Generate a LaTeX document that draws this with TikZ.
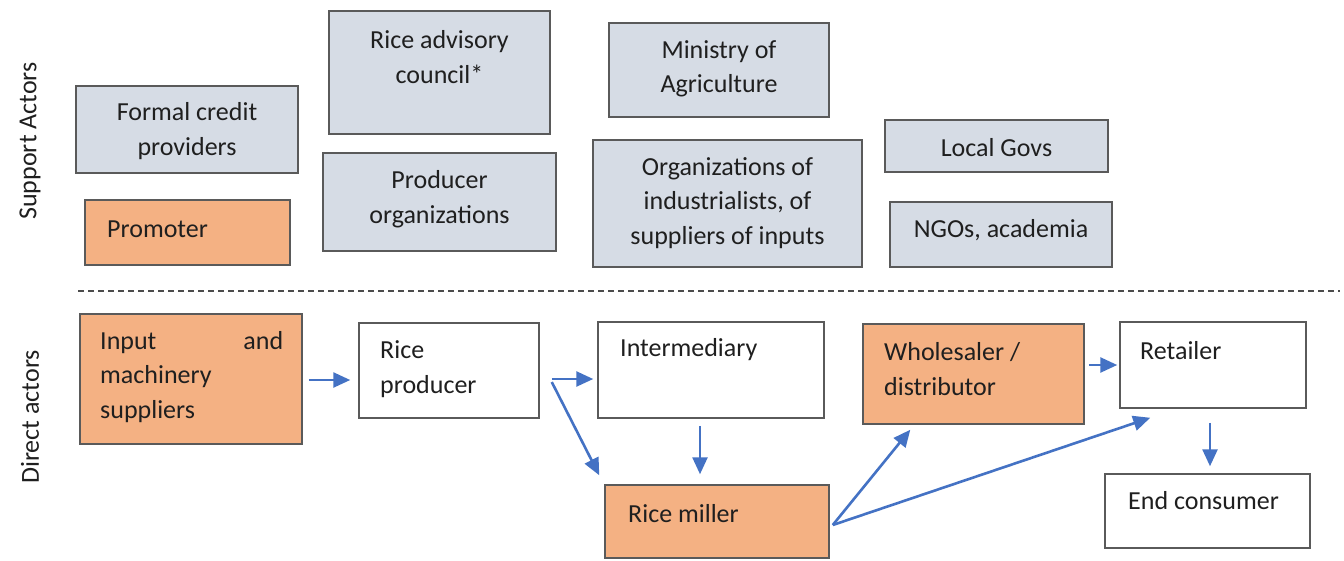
\documentclass[tikz,border=0pt]{standalone}
\usepackage{fontspec}
\setmainfont{Carlito}
\usetikzlibrary{arrows.meta,calc}
\definecolor{boxgrey}{HTML}{D6DCE5}
\definecolor{boxorange}{HTML}{F4B183}
\definecolor{edgegrey}{HTML}{5A5A5A}
\definecolor{arrblue}{HTML}{4472C4}
\definecolor{txtcol}{HTML}{1F1F1F}
\begin{document}
\begin{tikzpicture}[x=1pt,y=-1pt,
  box/.style={draw=edgegrey, line width=1.5pt, rectangle, inner sep=0pt},
  supbox/.style={box, fill=boxgrey},
  orgbox/.style={box, fill=boxorange},
  dirbox/.style={box, fill=white},
  txt/.style={font=\fontsize{26}{34.5}\selectfont, align=center, inner sep=0pt, text=txtcol},
  ltxt/.style={txt, align=left, anchor=west},
  arr/.style={draw=arrblue, line width=2.6pt, -{Triangle[length=17pt,width=15pt]}},
  sepline/.style={draw=black!70, line width=1.1pt, dash pattern=on 6pt off 4pt}
]
\path[use as bounding box, fill=white] (0,0) rectangle (1344,560);

% side labels
\node[txt, rotate=90] (lsupport) at (30,141) {Support Actors};
\node[txt, rotate=90] (ldirect) at (30,417) {Direct actors};

% separator
\coordinate (sepL) at (78,291);
\coordinate (sepR) at (1340,291);
\draw[sepline] (sepL) -- (sepR);

% support actors
\node[supbox, minimum width=222pt, minimum height=87pt] (credit) at (187,129.5) {};
\node[txt] (tcredit) at (187,131) {Formal credit\\providers};
\node[orgbox, minimum width=205pt, minimum height=65pt] (promoter) at (187.5,232.5) {};
\node[ltxt] (tpromoter) at (107,229) {Promoter};
\node[supbox, minimum width=221pt, minimum height=123pt] (advisory) at (439.5,72.5) {};
\node[txt] (tadvisory) at (439.5,57) {Rice advisory\\council*};
\node[supbox, minimum width=233pt, minimum height=98pt] (prodorg) at (439.5,202) {};
\node[txt] (tprodorg) at (439.5,199) {Producer\\organizations};
\node[supbox, minimum width=220pt, minimum height=94pt] (ministry) at (719,70) {};
\node[txt] (tministry) at (719,69) {Ministry of\\Agriculture};
\node[supbox, minimum width=269pt, minimum height=127pt] (orgs) at (727.5,203.5) {};
\node[txt] (torgs) at (727.5,203) {Organizations of\\industrialists, of\\suppliers of inputs};
\node[supbox, minimum width=223pt, minimum height=52pt] (localgov) at (996.5,146) {};
\node[txt] (tlocalgov) at (996.5,148) {Local Govs};
\node[supbox, minimum width=222pt, minimum height=65pt] (ngos) at (1001,234.5) {};
\node[txt] (tngos) at (1001,230) {NGOs, academia};

% direct actors
\node[orgbox, minimum width=222pt, minimum height=130pt] (input) at (191,379) {};
\node[ltxt, text width=183pt] (tinput) at (100,377) {Input\hfill and\\machinery\\suppliers};
\node[dirbox, minimum width=180pt, minimum height=95pt] (producer) at (449,370.5) {};
\node[ltxt] (tproducer) at (380,369) {Rice\\producer};
\node[dirbox, minimum width=226pt, minimum height=96pt] (inter) at (711,370) {};
\node[ltxt] (tinter) at (620,350) {Intermediary};
\node[orgbox, minimum width=221pt, minimum height=100pt] (whole) at (973.5,374) {};
\node[ltxt] (twhole) at (884,369) {Wholesaler /\\distributor};
\node[dirbox, minimum width=186pt, minimum height=86pt] (retail) at (1213,365) {};
\node[ltxt] (tretail) at (1140,351) {Retailer};
\node[orgbox, minimum width=224pt, minimum height=73pt] (miller) at (717,521.5) {};
\node[ltxt] (tmiller) at (628,514) {Rice miller};
\node[dirbox, minimum width=205pt, minimum height=74pt] (endc) at (1207.5,511) {};
\node[ltxt] (tendc) at (1128,501) {End consumer};

% connectors
\draw[arr] ($(input.east)+(6,1)$) -- ($(producer.west)+(-8,9.5)$);
\draw[arr] ($(producer.east)+(12,8.5)$) -- ($(inter.west)+(-4,9)$);
\draw[arr] ($(producer.east)+(12,11.5)$) -- ($(miller.north west)+(-5,-9)$);
\draw[arr] ($(inter.south)+(-11,7)$) -- ($(miller.north)+(-17,-10)$);
\draw[arr] ($(miller.east)+(3,3.5)$) -- ($(whole.south west)+(48,5)$);
\draw[arr] ($(miller.east)+(3,3.5)$) -- ($(retail.south west)+(31,9)$);
\draw[arr] ($(whole.east)+(4,-9)$) -- ($(retail.west)+(-2,0)$);
\draw[arr] ($(retail.south)+(-3,14)$) -- ($(endc.north)+(2.5,-7)$);
\end{tikzpicture}
\end{document}
